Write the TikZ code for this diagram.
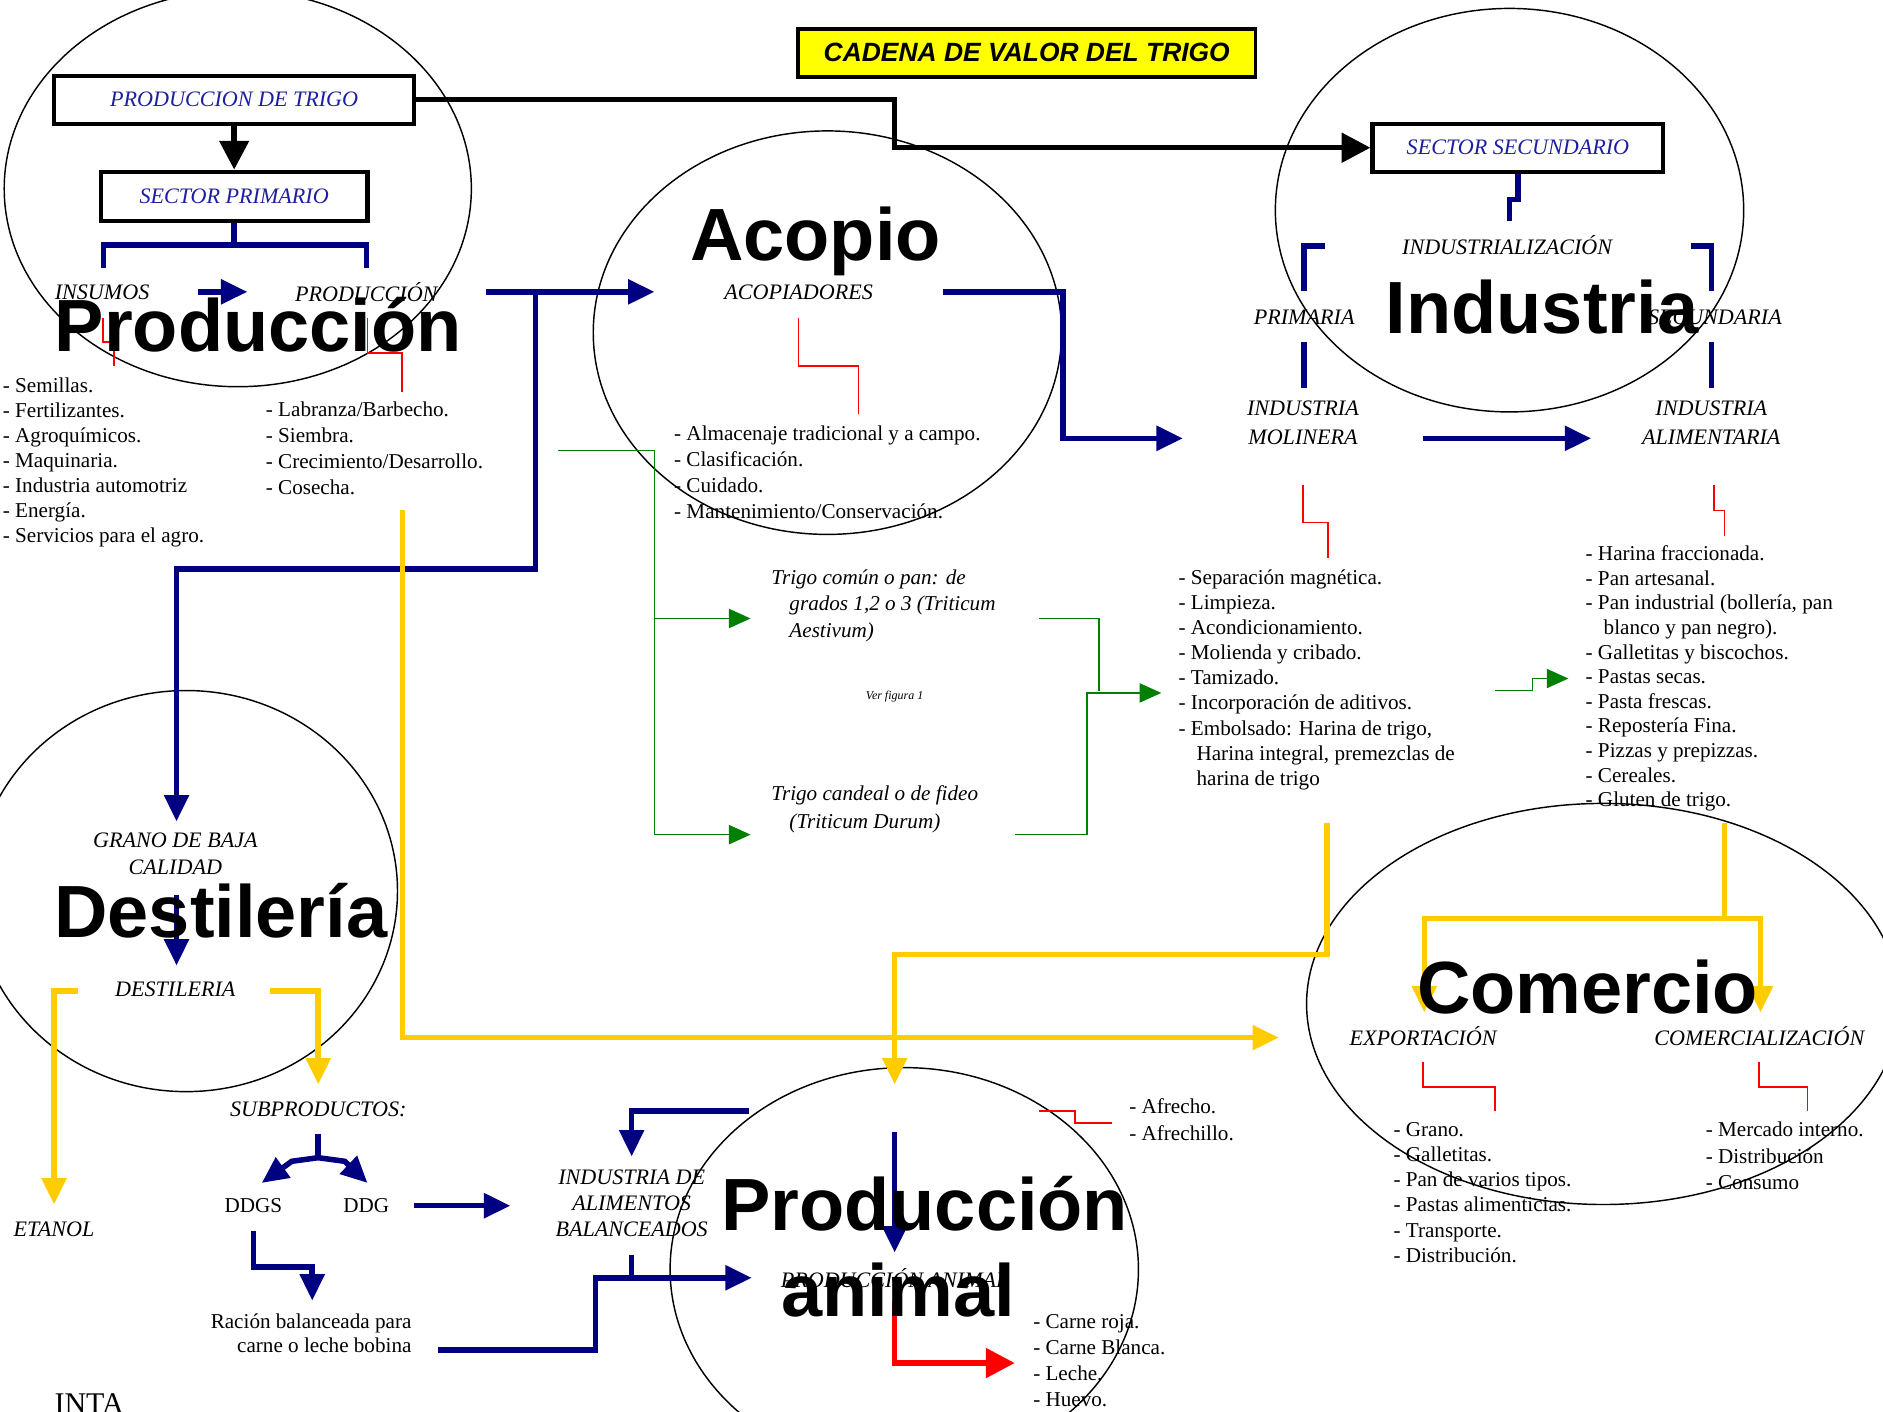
\documentclass[tikz,border=0pt]{standalone}
\usepackage{fontspec}
\setmainfont{Liberation Serif}
\setsansfont{Liberation Sans}
\usetikzlibrary{arrows.meta}

\definecolor{navy}{RGB}{0,0,128}
\definecolor{gold}{RGB}{255,204,0}
\definecolor{leaf}{RGB}{0,128,0}
\definecolor{ink}{RGB}{30,30,160}
\definecolor{banner}{RGB}{255,255,0}

\tikzset{
  flow/.style={line width=2.3pt, line join=miter},
  blueflow/.style={flow, draw=navy},
  bluetip/.style={blueflow, -{Triangle[length=11pt,width=10pt]}},
  goldflow/.style={flow, draw=gold},
  goldtip/.style={goldflow, -{Triangle[length=11pt,width=10pt]}},
  blackflow/.style={flow, draw=black},
  blacktip/.style={blackflow, -{Triangle[length=12pt,width=12pt]}},
  redtip/.style={flow, draw=red, -{Triangle[length=12pt,width=12pt]}},
  greenline/.style={draw=leaf, line width=0.6pt},
  greentip/.style={greenline, -{Triangle[length=9pt,width=8pt]}},
  redstep/.style={draw=red, line width=0.7pt},
  region/.style={draw=black, line width=0.6pt},
  sectorbox/.style={draw=black, line width=1.8pt, fill=white, text=ink,
    font=\fontsize{9.2}{11}\selectfont\itshape, inner sep=0},
  stage/.style={font=\fontsize{9.2}{#1}\selectfont\itshape, align=center, inner sep=0},
  stage/.default=11.5pt,
  items/.style={font=\fontsize{8.8}{#1}\selectfont, align=left, anchor=north west, inner sep=0},
  items/.default=10.5pt,
  bigname/.style={font=\fontsize{30.8}{36}\selectfont\sffamily\bfseries, inner sep=0, align=center},
}

\begin{document}
\begin{tikzpicture}[x=0.5pt, y=-0.5pt]
\useasboundingbox (0,0) rectangle (1568,1175);

% ---------- region outlines ----------
\draw[region] (198,157) ellipse [x radius=97.25pt, y radius=82.5pt];
\draw[region] (689,277) ellipse [x radius=97.5pt, y radius=84pt];
\draw[region] (1257,175) ellipse [x radius=97.5pt, y radius=84pt];
\draw[region] (155,742) ellipse [x radius=88pt, y radius=83.5pt];
\draw[region] (753,1057) ellipse [x radius=97.5pt, y radius=84pt];
\draw[region] (1335,836) ellipse [x radius=123.5pt, y radius=83.5pt];

% ---------- title and sector boxes ----------
\node[draw=black, line width=1.5pt, fill=banner, minimum width=190.5pt, minimum height=20pt,
      font=\fontsize{11}{13}\selectfont\sffamily\bfseries\itshape, inner sep=0]
      (title) at (855,44) {CADENA DE VALOR DEL TRIGO};
\node[sectorbox, minimum width=150pt, minimum height=20pt] (trigo) at (195,83) {PRODUCCION DE TRIGO};
\node[sectorbox, minimum width=111pt, minimum height=20.5pt] (primario) at (195,163.5) {SECTOR PRIMARIO};
\node[sectorbox, minimum width=121pt, minimum height=20pt] (secundario) at (1264,123) {SECTOR SECUNDARIO};

% ---------- stage labels ----------
\node[stage] (insumos) at (85,243) {INSUMOS};
\node[stage] (prodn) at (305,243) {PRODUCCIÓN};
\node[stage] (acopiadores) at (665,243) {ACOPIADORES};
\node[stage] (industrializacion) at (1255,204) {INDUSTRIALIZACIÓN};
\node[stage] (primaria) at (1086,264) {PRIMARIA};
\node[stage] (secundaria) at (1428,264) {SECUNDARIA};
\node[stage=12pt] (molinera) at (1085,352) {INDUSTRIA\\MOLINERA};
\node[stage=12pt] (alimentaria) at (1425,352) {INDUSTRIA\\ALIMENTARIA};
\node[stage=11.5pt] (grano) at (146,711) {GRANO DE BAJA\\CALIDAD};
\node[stage] (destileria) at (146,824) {DESTILERIA};
\node[stage] (subproductos) at (265,924) {SUBPRODUCTOS:};
\node[stage] (etanol) at (45,1024) {ETANOL};
\node[stage=10.8pt] (balanceados) at (526,1002) {INDUSTRIA DE\\ALIMENTOS\\BALANCEADOS};
\node[stage] (animal) at (745,1064) {PRODUCCIÓN ANIMAL};
\node[stage] (exportacion) at (1185,863) {EXPORTACIÓN};
\node[stage] (comercializacion) at (1465,863) {COMERCIALIZACIÓN};

% ---------- item lists ----------
\node[items=10.4pt] (insumolist) at (2,314)
  {- Semillas.\\- Fertilizantes.\\- Agroquímicos.\\- Maquinaria.\\- Industria automotriz\\- Energía.\\- Servicios para el agro.};
\node[items=10.8pt] (laborlist) at (221,334)
  {- Labranza/Barbecho.\\- Siembra.\\- Crecimiento/Desarrollo.\\- Cosecha.};
\node[items=10.8pt] (acopiolist) at (561,354)
  {- Almacenaje tradicional y a campo.\\- Clasificación.\\- Cuidado.\\- Mantenimiento/Conservación.};
\node[items=10.45pt] (molinolist) at (981,474)
  {- Separación magnética.\\- Limpieza.\\- Acondicionamiento.\\- Molienda y cribado.\\- Tamizado.\\- Incorporación de aditivos.\\- Embolsado: Harina de trigo,\\\hspace*{7.5pt}Harina integral, premezclas de\\\hspace*{7.5pt}harina de trigo};
\node[items=10.25pt] (alimlist) at (1320,454)
  {- Harina fraccionada.\\- Pan artesanal.\\- Pan industrial (bollería, pan\\\hspace*{7.5pt}blanco y pan negro).\\- Galletitas y biscochos.\\- Pastas secas.\\- Pasta frescas.\\- Repostería Fina.\\- Pizzas y prepizzas.\\- Cereales.\\- Gluten de trigo.};
\node[items=10.5pt] (exportlist) at (1160,934)
  {- Grano.\\- Galletitas.\\- Pan de varios tipos.\\- Pastas alimenticias.\\- Transporte.\\- Distribución.};
\node[items=11pt] (mercadolist) at (1420,934)
  {- Mercado interno.\\- Distribución\\- Consumo};
\node[items=11.5pt] (afrecholist) at (940,914)
  {- Afrecho.\\- Afrechillo.};
\node[items=10.8pt] (carnelist) at (860,1094)
  {- Carne roja.\\- Carne Blanca.\\- Leche.\\- Huevo.};

\node[items, font=\fontsize{8.8}{11}\selectfont\itshape] (comun) at (642,474)
  {Trigo común o pan: de\\\hspace*{7.5pt}grados 1,2 o 3 (Triticum\\\hspace*{7.5pt}Aestivum)};
\node[items, font=\fontsize{8.8}{11.5}\selectfont\itshape] (candeal) at (642,654)
  {Trigo candeal o de fideo\\\hspace*{7.5pt}(Triticum Durum)};
\node[font=\fontsize{5}{6}\selectfont\itshape, inner sep=0] (figura) at (745,580) {Ver figura 1};

\node[font=\fontsize{8.8}{10}\selectfont, inner sep=0] (ddgs) at (211,1004) {DDGS};
\node[font=\fontsize{8.8}{10}\selectfont, inner sep=0] (ddg) at (305,1004) {DDG};
\node[font=\fontsize{8.8}{9.6}\selectfont, align=right, anchor=north east, inner sep=0]
  (racion) at (343,1094) {Ración balanceada para\\carne o leche bobina};
\node[font=\fontsize{12.5}{14}\selectfont, anchor=base west, inner sep=0] (inta) at (45,1177) {INTA};

% ---------- black flows ----------
\draw[blacktip] (trigo.south) -- (primario.north);
\draw[blacktip] (trigo.east) -- (745,83) |- (secundario.west);

% ---------- blue flows ----------
\draw[blueflow] (primario.south) -- (195,204) coordinate (fork);
\draw[blueflow] (86,223) coordinate (forkL) -- (86,204) -- (305,204) -- (305,223) coordinate (forkR);
\draw[bluetip] (165,243) coordinate (insOut) -- (206,243) coordinate (prodIn);
\draw[bluetip] (405,243) coordinate (prodOut) -- (545,243) coordinate (acopioIn);
\draw[bluetip] (446,243) coordinate (lowSplit) -- (446,474) -- (147,474) -- (147,684) coordinate (granoIn);
\draw[bluetip] (785,243) coordinate (acopioOut) -- (885,243) -- (885,365) -- (985,365) coordinate (molIn);
\draw[bluetip] (1185,365) coordinate (molOut) -- (1325,365) coordinate (alimIn);
\draw[blueflow] (secundario.south) -- (1264,166) -- (1257,166) -- (1257,184) coordinate (indIn);
\draw[blueflow] (1103,205) coordinate (brLtop) -- (1086,205) -- (1086,242) coordinate (brLend);
\draw[blueflow] (1086,285) coordinate (priOut) -- (1086,323) coordinate (molTop);
\draw[blueflow] (1408,205) coordinate (brRtop) -- (1425,205) -- (1425,242) coordinate (brRend);
\draw[blueflow] (1425,285) coordinate (secOut) -- (1425,323) coordinate (alimTop);
\draw[bluetip] (147,745) coordinate (granoOut) -- (147,804) coordinate (destIn);
\draw[blueflow] (265,944) coordinate (subOut) -- (265,964) coordinate (subFork);
\draw[bluetip] (subFork) -- (243,967) -- (218,985) coordinate (ddgsIn);
\draw[bluetip] (subFork) -- (287,967) -- (306,985) coordinate (ddgIn);
\draw[bluetip] (345,1004) coordinate (ddgOut) -- (425,1004) coordinate (balIn);
\draw[bluetip] (211,1025) coordinate (ddgsOut) -- (211,1055) -- (260,1055) -- (260,1083) coordinate (racionIn);
\draw[bluetip] (365,1124) coordinate (racionOut) -- (496,1124) -- (496,1064) -- (626,1064) coordinate (animalIn);
\draw[blueflow] (526,1045) coordinate (balOut) -- (526,1064);
\draw[bluetip] (624,925) coordinate (balFeed) -- (526,925) -- (526,963) coordinate (balTop);
\draw[bluetip] (745,943) coordinate (animalFeed) -- (745,1043) coordinate (animalTop);

% ---------- red flow out of animal production ----------
\draw[redtip] (745,1084) coordinate (animalOut) -- (745,1135) -- (845,1135) coordinate (carneIn);

% ---------- yellow flows ----------
\draw[goldtip] (335,425) coordinate (cosechaOut) -- (335,864) -- (1065,864) coordinate (exportIn);
\draw[goldtip] (1105,685) coordinate (harinaOut) -- (1105,795) -- (745,795) -- (745,903) coordinate (subIn);
\draw[goldflow] (1436,685) coordinate (alimOut) -- (1436,765) coordinate (comFork);
\draw[goldtip] (comFork) -- (1186,765) -- (1186,843) coordinate (expTop);
\draw[goldtip] (comFork) -- (1466,765) -- (1466,843) coordinate (comTop);
\draw[goldtip] (65,825) coordinate (destL) -- (45,825) -- (45,1003) coordinate (etanolIn);
\draw[goldtip] (225,825) coordinate (destR) -- (265,825) -- (265,903) coordinate (subprodIn);

% ---------- green flows ----------
\draw[greentip] (465,375) coordinate (acopioSplit) -- (545,375) -- (545,695) -- (625,695) coordinate (candealIn);
\draw[greentip] (545,515) coordinate (comunSplit) -- (625,515) coordinate (comunIn);
\draw[greenline] (865,515) coordinate (comunOut) -- (915,515) -- (915,575) coordinate (comunJoin);
\draw[greentip] (845,695) coordinate (candealOut) -- (905,695) -- (905,577) -- (967,577) coordinate (molListIn);
\draw[greentip] (1245,575) coordinate (molListOut) -- (1276,575) -- (1276,565) -- (1306,565) coordinate (alimListIn);

% ---------- red detail steps ----------
\draw[redstep] (86,265) -- (86,285) -- (95,285) -- (95,305);
\draw[redstep] (306,265) -- (306,294) -- (335,294) -- (335,326);
\draw[redstep] (665,265) -- (665,305) -- (715,305) -- (715,345);
\draw[redstep] (1085,404) -- (1085,435) -- (1106,435) -- (1106,465);
\draw[redstep] (1427,404) -- (1427,425) -- (1436,425) -- (1436,446);
\draw[redstep] (1185,884) -- (1185,905) -- (1245,905) -- (1245,925);
\draw[redstep] (1465,884) -- (1465,905) -- (1505,905) -- (1505,925);
\draw[redstep] (865,925) -- (895,925) -- (895,935) -- (926,935);

% ---------- region names ----------
\node[bigname, anchor=base] (nameProd) at (215,293) {Producción};
\node[bigname, anchor=base] (nameAcopio) at (679,217) {Acopio};
\node[bigname, anchor=base] (nameInd) at (1284,278) {Industria};
\node[bigname, anchor=base] (nameDest) at (184,781) {Destilería};
\node[bigname, anchor=base] (nameCom) at (1322,844) {Comercio};
\node[bigname] (nameAnimal) at (770,1038) {Producción\\animal\hspace*{22pt}};

\end{tikzpicture}
\end{document}
